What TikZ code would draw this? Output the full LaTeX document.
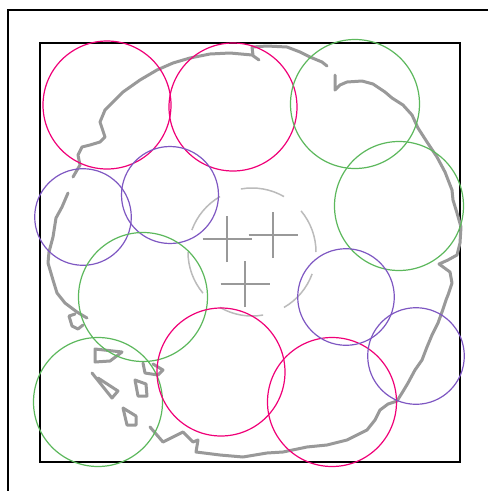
\documentclass[tikz,border=0pt]{standalone}
\definecolor{cpink}{RGB}{240,0,120}
\definecolor{cgreen}{RGB}{92,184,92}
\definecolor{cpurple}{RGB}{126,87,194}
\definecolor{cgray}{RGB}{153,153,153}
\definecolor{clight}{RGB}{187,187,187}
\tikzset{
  frame/.style={draw=black,line width=1.5pt},
  blob/.style={draw=cgray,line width=3pt,line join=round,line cap=round},
  ring/.style={line width=1.2pt},
  pinkring/.style={ring,draw=cpink},
  greenring/.style={ring,draw=cgreen},
  purplering/.style={ring,draw=cpurple},
  crossline/.style={draw=cgray,line width=1.6pt},
  dashring/.style={draw=clight,line width=1.5pt}
}
\begin{document}
\begin{tikzpicture}[x=1pt,y=-1pt]
\useasboundingbox (0,0) rectangle (488,491);
\clip (0,0) rectangle (488,491);
\fill[white] (0,0) rectangle (488,491);
% frames
\draw[frame] (8,495) -- (8,10) -- (495,10);
\draw[frame] (40,43) rectangle (460,462);
% blob outline
\draw[blob] (259,60) -- (252,55) -- (230,53) -- (210,54) -- (190,58) -- (173,63) -- (157,70) -- (140,80) -- (123,92) -- (112,103) -- (105,110) -- (100,122) -- (105,137) -- (100,142) -- (90,145) -- (82,147) -- (78,155) -- (80,165) -- (73,177);
\draw[blob] (327,66) -- (322,62) -- (310,57) -- (300,52) -- (287,47) -- (267,46) -- (252,47) -- (253,55);
\draw[blob] (335,75) -- (335,90) -- (340,85) -- (347,82) -- (362,81) -- (373,84) -- (385,92) -- (392,98) -- (403,105) -- (412,115) -- (418,128) -- (427,142) -- (437,157) -- (445,172) -- (452,190) -- (453,200) -- (457,213) -- (461,227) -- (460,243) -- (457,255) -- (448,260) -- (439,264) -- (450,272) -- (452,283) -- (448,295) -- (446,300) -- (442,312) -- (438,323) -- (432,335) -- (427,347) -- (422,360) -- (415,370) -- (408,383) -- (402,393) -- (397,401) -- (388,404) -- (380,410) -- (375,420) -- (367,430) -- (347,440) -- (327,445) -- (307,447) -- (283,452) -- (267,453) -- (243,457) -- (220,455) -- (196,452) -- (198,440) -- (193,442) -- (183,432) -- (163,442) -- (150,427);
\draw[blob] (68,193) -- (62,207) -- (56,218) -- (53,237) -- (49,252) -- (48,263) -- (53,280) -- (57,293) -- (65,303) -- (77,312) -- (87,318);
\draw[blob] (75,314) -- (69,316) -- (72,326) -- (78,329) -- (83,325);
\draw[blob] (122,352) -- (95,349) -- (95,362) -- (110,361) -- cycle;
\draw[blob] (92,373) -- (112,398) -- (118,391) -- (98,378);
\draw[blob] (135,380) -- (138,396) -- (147,396) -- (146,384) -- cycle;
\draw[blob] (123,408) -- (127,425) -- (136,425) -- (136,416) -- cycle;
\draw[blob] (143,363) -- (145,373) -- (158,375) -- (163,370) -- (153,364);
% dashed circle
\coordinate (dc) at (252,252);
\foreach \a in {20,80,140,200,260,320}
  \draw[dashring] ([shift={(\a:64)}]dc) arc[start angle=\a, end angle=\a+40, radius=64];
% crosses
\coordinate (k1) at (227,239);
\coordinate (k2) at (273,235);
\coordinate (k3) at (245,284);
\foreach \k in {k1,k2,k3}{
  \draw[crossline] ([xshift=-24.5]\k) -- ([xshift=24.5]\k);
  \draw[crossline] ([yshift=-23]\k) -- ([yshift=23]\k);
}
% circles
\draw[pinkring] (107,105) circle[radius=64];
\draw[pinkring] (233,107) circle[radius=64];
\draw[greenring] (355,104) circle[radius=64.5];
\draw[greenring] (399,206) circle[radius=64.5];
\draw[purplering] (83,217) circle[radius=48.3];
\draw[purplering] (170,195) circle[radius=48.5];
\draw[greenring] (143,297) circle[radius=64.5];
\draw[greenring] (98,402) circle[radius=64.5];
\draw[pinkring] (221,372) circle[radius=64];
\draw[pinkring] (332,402) circle[radius=64.5];
\draw[purplering] (346,297) circle[radius=48.3];
\draw[purplering] (416,356) circle[radius=48.3];
\end{tikzpicture}
\end{document}
